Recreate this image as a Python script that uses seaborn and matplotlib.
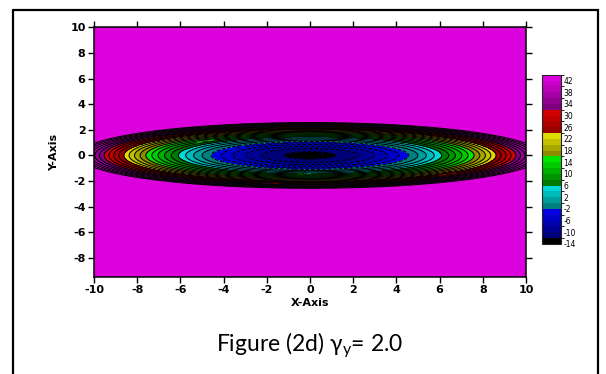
import numpy as np
import seaborn as sns
import matplotlib.pyplot as plt
from matplotlib.colors import ListedColormap, BoundaryNorm
from matplotlib.lines import Line2D

# 등고선 레벨 / 색상 구간
levels = list(range(-14, 46, 2))
cbar_ticks = list(range(-14, 43, 4))
x_ticks = list(range(-10, 11, 2))
y_ticks = list(range(-8, 11, 2))

# 색상 그룹 (어두운색 -> 밝은색, 구간 수)
black_band = ['#000000']
blue_grp = ('#000078', '#0000e0', 5)
cyan_grp = ('#008080', '#00d8d8', 4)
green_grp = ('#007a00', '#00e600', 5)
yellow_grp = ('#8c8c00', '#dcdc00', 4)
red_grp = ('#d20000', '#960000', 4)
purple_grp = ('#800080', '#dc00dc', 6)

# 곡면 파라미터
z_center = -13.0
lin_coef = 0.27
quad_coef = 0.467
xy_ratio = 4.2

sns.set_style('ticks')
plt.rcParams['font.family'] = ['DejaVu Sans']
plt.rcParams.update({'text.color': 'black', 'axes.labelcolor': 'black',
                     'xtick.color': 'black', 'ytick.color': 'black',
                     'axes.unicode_minus': False})

colors = list(black_band)
for lo, hi, n in [blue_grp, cyan_grp, green_grp, yellow_grp]:
    colors += sns.blend_palette([lo, hi], n)
colors += sns.blend_palette([red_grp[1], red_grp[0]], red_grp[2])
colors += sns.blend_palette([purple_grp[0], purple_grp[1]], purple_grp[2])
cmap = ListedColormap(colors)
norm = BoundaryNorm(levels, cmap.N)

x = np.linspace(-10, 10, 801)
y = np.linspace(-10, 10, 801)
X, Y = np.meshgrid(x, y)
R = np.sqrt(X**2 + (xy_ratio * Y)**2)
Z = z_center + lin_coef * R + quad_coef * R**2

fig = plt.figure(figsize=(6.06, 3.74), dpi=100)
ax = fig.add_axes([0.155, 0.259, 0.713, 0.668])
cf = ax.contourf(X, Y, np.minimum(Z, 43.99), levels=levels, cmap=cmap, norm=norm)
cl = ax.contour(X, Y, Z, levels=levels[1:], colors='k', linewidths=0.75)
ax.clabel(cl, levels=[-4, 6, 10, 26, 30], fontsize=4.5, inline=True, fmt='%d')

ax.set_xlim(-10, 10)
ax.set_ylim(-9.5, 10)
ax.set_xticks(x_ticks)
ax.set_yticks(y_ticks)
ax.set_xticklabels([str(v) for v in x_ticks])
ax.set_yticklabels([str(v) for v in y_ticks])
ax.tick_params(direction='out', length=4, width=1, labelsize=8,
               top=True, right=True, pad=2)
for lab in ax.get_xticklabels() + ax.get_yticklabels():
    lab.set_fontweight('bold')
for s in ax.spines.values():
    s.set_linewidth(1.1)
    s.set_color('black')
ax.set_xlabel('X-Axis', fontsize=8, fontweight='bold', labelpad=2)
ax.set_ylabel('Y-Axis', fontsize=8, fontweight='bold', labelpad=8)

# 컬러바
cax = fig.add_axes([0.894, 0.348, 0.031, 0.452])
cb = fig.colorbar(cf, cax=cax, ticks=cbar_ticks)
cb.ax.set_yticklabels([str(v) for v in cbar_ticks])
cb.outline.set_linewidth(0.8)
cax.tick_params(length=0, labelsize=5.5, pad=2)

# 그림 제목
plt.rcParams['mathtext.fontset'] = 'custom'
plt.rcParams['mathtext.rm'] = 'Lato'
plt.rcParams['mathtext.it'] = 'Lato'
fig.text(0.511, 0.077, r'Figure (2d) $\mathregular{\gamma_y}$= 2.0',
         fontsize=16.5, family='Lato', ha='center', va='center', color='black')

# 바깥 테두리
for xs, ys in [([13, 13], [0, 364]), ([13, 598], [364, 364]), ([598, 598], [0, 364])]:
    fig.add_artist(Line2D(np.array(xs) / 606, np.array(ys) / 374,
                          color='k', linewidth=1.6))

fig.savefig('out.png', dpi=100)
